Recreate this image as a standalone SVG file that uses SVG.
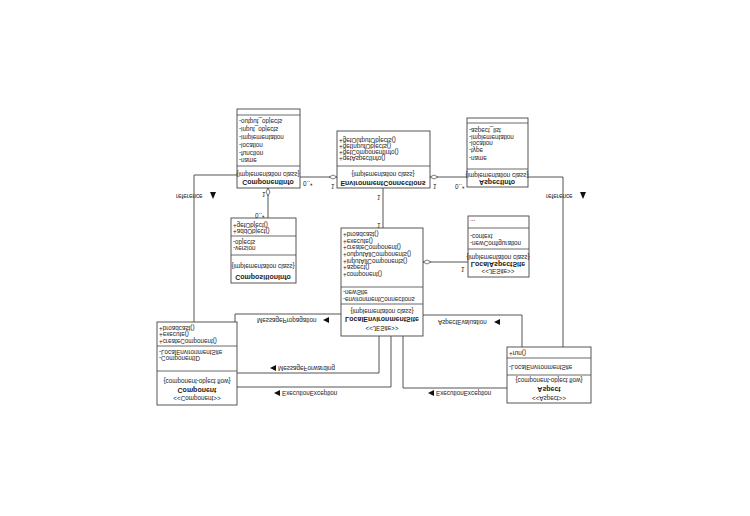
<svg xmlns="http://www.w3.org/2000/svg" width="750" height="516" viewBox="0 0 750 516">
<style>
.b{fill:#fff;stroke:#444;stroke-width:0.9}
.s{stroke:#444;stroke-width:0.8}
.c{fill:none;stroke:#555;stroke-width:1}
text{font-family:"Liberation Sans",Arial,sans-serif;font-size:6.3px;fill:#222}
.t{font-weight:bold;font-size:7px;text-anchor:middle}
.m{text-anchor:middle}
.d{fill:#fff;stroke:#555;stroke-width:0.8}
.a{fill:#111}
</style>
<rect width="750" height="516" fill="#fff"/>
<g transform="matrix(1 0 0 -1 0 516)">
<g id="connectors">
<path class="c" d="M300 339H337"/>
<path class="c" d="M430 339H467"/>
<path class="c" d="M268 328V298"/>
<path class="c" d="M383 328V288"/>
<path class="c" d="M423 254H468"/>
<path class="c" d="M237 341H194V194"/>
<path class="c" d="M528 339H563V169"/>
<path class="c" d="M235 194V202H341"/>
<path class="c" d="M379 180V143H237"/>
<path class="c" d="M391 180V129H237"/>
<path class="c" d="M423 201H522V169"/>
<path class="c" d="M403 180V128H507"/>
<polygon class="d" points="337,339 333,337 329,339 333,341"/>
<polygon class="d" points="430,339 434,337 438,339 434,341"/>
<polygon class="d" points="268,328 266,324 268,320 270,324"/>
<polygon class="d" points="423,254 427,252 431,254 427,256"/>
<text x="303" y="335">0..*</text>
<text x="331" y="332">1</text>
<text x="433" y="332">1</text>
<text x="455" y="332">0..*</text>
<text x="262" y="324">1</text>
<text x="255" y="303">0..*</text>
<text x="377" y="321">1</text>
<text x="377" y="293">1</text>
<text x="461" y="249">1</text>
<text x="176" y="322">reference</text>
<polygon class="a" points="210,324 216,324 213,317"/>
<text x="546" y="322">reference</text>
<polygon class="a" points="580,324 586,324 583,317"/>
<text x="257" y="198">MessagePropagation</text>
<polygon class="a" points="323,196 329,193 329,199"/>
<polygon class="a" points="270,148 276,145 276,151"/>
<text x="278" y="150">MessageForwarding</text>
<polygon class="a" points="274,123 280,120 280,126"/>
<text x="282" y="125">ExecutionException</text>
<text x="438" y="196">AspectEvaluation</text>
<polygon class="a" points="494,194 500,191 500,197"/>
<polygon class="a" points="428,123 434,120 434,126"/>
<text x="436" y="125">ExecutionException</text>
</g>
<g id="ComponentInfo">
<rect class="b" x="237" y="328" width="63" height="79"/>
<path class="s" d="M237 350H300M237 401H300"/>
<text class="t" x="268" y="336">ComponentInfo</text>
<text class="m" x="268" y="344">{implementation class}</text>
<text x="239" y="358">-name</text>
<text x="239" y="365">-function</text>
<text x="239" y="373">-location</text>
<text x="239" y="381">-implementation</text>
<text x="239" y="389">-input_objects</text>
<text x="239" y="397">-output_objects</text>
</g>
<g id="EnvironmentConnections">
<rect class="b" x="337" y="328" width="93" height="57"/>
<path class="s" d="M337 350H430"/>
<text class="t" x="383" y="335">EnvironmentConnections</text>
<text class="m" x="383" y="344">{implementation class}</text>
<text x="339" y="360">+getAspectInfo()</text>
<text x="339" y="366">+getComponentInfo()</text>
<text x="339" y="372">+getInputObjects()</text>
<text x="339" y="378">+getOutputObjects()</text>
</g>
<g id="AspectInfo">
<rect class="b" x="467" y="329" width="61" height="69"/>
<path class="s" d="M467 347H528M467 393H528"/>
<text class="t" x="497" y="336">AspectInfo</text>
<text class="m" x="497" y="343">{implementation class}</text>
<text x="469" y="360">-name</text>
<text x="469" y="368">-type</text>
<text x="469" y="375">-location</text>
<text x="469" y="381">-implementation</text>
<text x="469" y="388">-aspect_list</text>
</g>
<g id="CompositionInfo">
<rect class="b" x="231" y="233" width="65" height="65"/>
<path class="s" d="M231 261H296M231 280H296"/>
<text class="t" x="263" y="241">CompositionInfo</text>
<text class="m" x="263" y="252">{implementation class}</text>
<text x="233" y="270">-version</text>
<text x="233" y="276">-objects</text>
<text x="233" y="287">+addObject()</text>
<text x="233" y="293">+getObject()</text>
</g>
<g id="LocalEnvironmentSite">
<rect class="b" x="341" y="180" width="82" height="108"/>
<path class="s" d="M341 212H423M341 229H423"/>
<text class="m" x="382" y="190">&lt;&lt;JESite&gt;&gt;</text>
<text class="t" x="382" y="199">LocalEnvironmentSite</text>
<text class="m" x="382" y="207">{implementation class}</text>
<text x="343" y="219">-environmentConnections</text>
<text x="343" y="226">-newSite</text>
<text x="343" y="244">+component()</text>
<text x="343" y="251">+aspect()</text>
<text x="343" y="257">+inputAllComponents()</text>
<text x="343" y="264">+outputAllComponents()</text>
<text x="343" y="271">+createComponent()</text>
<text x="343" y="277">+execute()</text>
<text x="343" y="284">+broadcast()</text>
</g>
<g id="LocalAspectSite">
<rect class="b" x="468" y="239" width="61" height="61"/>
<path class="s" d="M468 267H529M468 288H529"/>
<text class="m" x="498" y="247">&lt;&lt;JESite&gt;&gt;</text>
<text class="t" x="498" y="254">LocalAspectSite</text>
<text class="m" x="498" y="261">{implementation class}</text>
<text x="470" y="275">-newConfiguration</text>
<text x="470" y="282">-context</text>
<text x="470" y="296">...</text>
</g>
<g id="Component">
<rect class="b" x="157" y="111" width="80" height="83"/>
<path class="s" d="M157 145H237M157 170H237"/>
<text class="m" x="197" y="120">&lt;&lt;Component&gt;&gt;</text>
<text class="t" x="197" y="128">Component</text>
<text class="m" x="197" y="137">{component-object flow}</text>
<text x="159" y="160">-ComponentID</text>
<text x="159" y="166">-LocalEnvironmentSite</text>
<text x="159" y="177">+createComponent()</text>
<text x="159" y="184">+execute()</text>
<text x="159" y="190">+broadcast()</text>
</g>
<g id="Aspect">
<rect class="b" x="507" y="113" width="84" height="56"/>
<path class="s" d="M507 141H591M507 158H591"/>
<text class="m" x="549" y="120">&lt;&lt;Aspect&gt;&gt;</text>
<text class="t" x="549" y="129">Aspect</text>
<text class="m" x="549" y="138">{component-object flow}</text>
<text x="509" y="151">-LocalEnvironmentSite</text>
<text x="509" y="165">+run()</text>
</g>
</g>
</svg>
